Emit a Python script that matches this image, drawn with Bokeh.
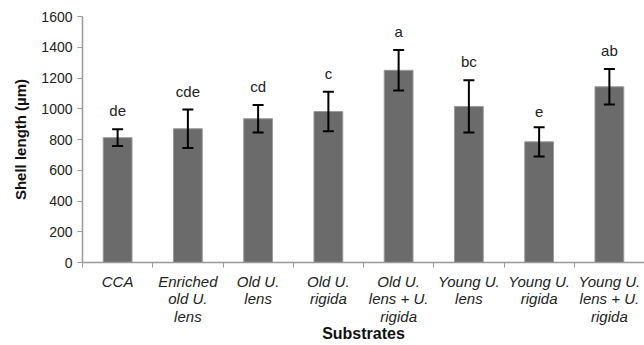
import numpy as np
from bokeh.plotting import figure
from bokeh.models import ColumnDataSource, Range1d, FixedTicker, Whisker, TeeHead
from bokeh.core.properties import value
from bokeh.embed import file_html
from bokeh.resources import INLINE

categories = ["CCA", "Enriched\nold U.\nlens", "Old U.\nlens", "Old U.\nrigida",
              "Old U.\nlens + U.\nrigida", "Young U.\nlens", "Young U.\nrigida",
              "Young U.\nlens + U.\nrigida"]
means = [812, 870, 935, 982, 1250, 1015, 785, 1143]
errors = [55, 125, 90, 128, 132, 170, 95, 115]
letters = ["de", "cde", "cd", "c", "a", "bc", "e", "ab"]
y_ticks = [0, 200, 400, 600, 800, 1000, 1200, 1400, 1600]

n = len(categories)
xs = np.arange(n) + 0.5
src = ColumnDataSource(dict(
    x=xs, top=means,
    upper=[m + e for m, e in zip(means, errors)],
    lower=[m - e for m, e in zip(means, errors)],
    lab=letters,
))

p = figure(width=644, height=345, output_backend="svg", toolbar_location=None,
           x_range=Range1d(0, n), y_range=Range1d(0, 1600),
           min_border_left=82, min_border_right=0, min_border_top=16,
           min_border_bottom=82)
p.outline_line_color = None
p.grid.visible = False
p.background_fill_color = "white"

p.vbar(x="x", top="top", width=0.41, bottom=0, source=src,
       fill_color="#6b6b6b", line_color="#9a9a9a", line_width=1)

w = Whisker(base="x", upper="upper", lower="lower", source=src,
            line_color="black", line_width=2, level="overlay",
            upper_head=TeeHead(size=11, line_color="black", line_width=2),
            lower_head=TeeHead(size=11, line_color="black", line_width=2))
p.add_layout(w)

p.text(x="x", y="upper", text="lab", source=src, text_align="center",
       text_baseline="bottom", y_offset=-10, text_font_size="15px",
       text_font=value("Liberation Sans"), text_color="#222222")

# x axis
xa = p.xaxis[0]
xa.ticker = FixedTicker(ticks=list(xs), minor_ticks=list(range(n + 1)))
xa.major_label_overrides = {float(x): c for x, c in zip(xs, categories)}
xa.major_tick_line_color = None
xa.minor_tick_line_color = "#999999"
xa.minor_tick_out = 5
xa.minor_tick_in = 0
xa.axis_line_color = "#999999"
xa.axis_line_width = 1.5
xa.major_label_text_font = "Liberation Sans"
xa.major_label_text_font_style = "italic"
xa.major_label_text_font_size = "15px"
xa.major_label_text_color = "#222222"
xa.major_label_text_line_height = 1.05
xa.major_label_standoff = 4
xa.axis_label = "Substrates"
xa.axis_label_text_font = "Liberation Sans"
xa.axis_label_text_font_style = "bold"
xa.axis_label_text_font_size = "16px"
xa.axis_label_text_color = "#111111"
xa.axis_label_text_line_height = 0.9
xa.axis_label_standoff = -3

ya = p.yaxis[0]
ya.ticker = FixedTicker(ticks=y_ticks, minor_ticks=[])
ya.axis_line_color = "#999999"
ya.axis_line_width = 1.5
ya.major_tick_line_color = "#999999"
ya.major_tick_out = 5
ya.major_tick_in = 0
ya.major_label_text_font = "Liberation Sans"
ya.major_label_text_font_size = "14px"
ya.major_label_text_color = "#222222"
ya.major_label_standoff = 5
ya.axis_label = "Shell length (µm)"
ya.axis_label_text_font = "Liberation Sans"
ya.axis_label_text_font_style = "bold"
ya.axis_label_text_font_size = "15px"
ya.axis_label_text_color = "#111111"
ya.axis_label_standoff = 9

open("out.html", "w").write(file_html(p, INLINE))
